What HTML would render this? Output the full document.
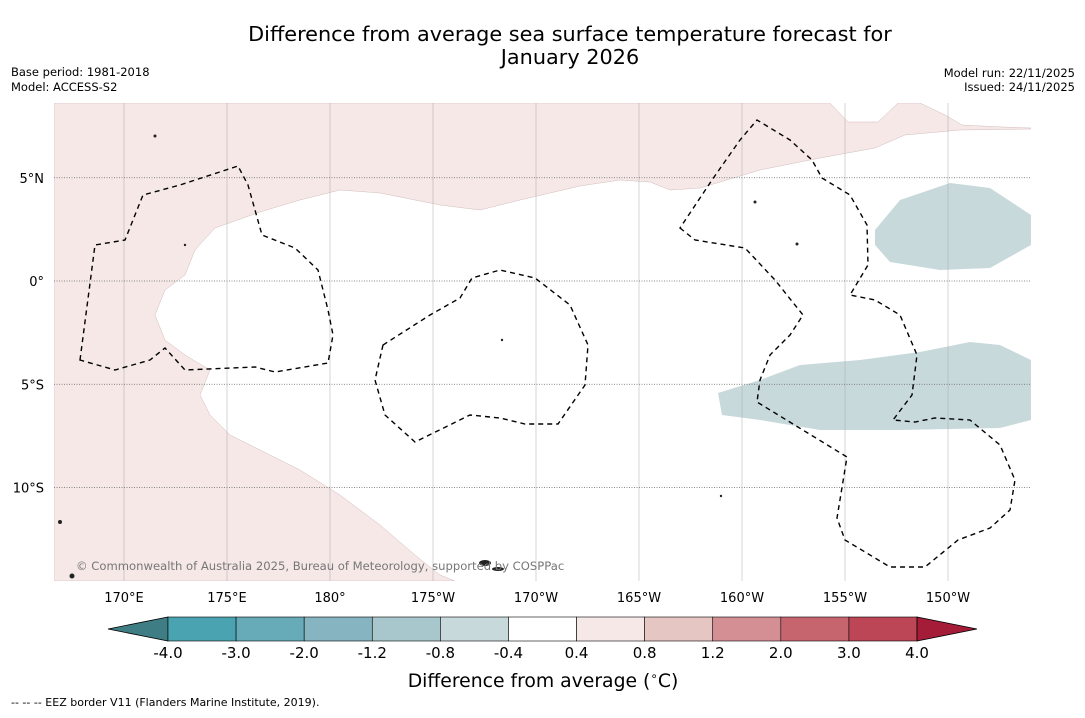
<!DOCTYPE html>
<html><head><meta charset="utf-8">
<style>
body{margin:0;background:#fff;font-family:"Liberation Sans","DejaVu Sans",sans-serif;}
svg text{font-family:"DejaVu Sans","Liberation Sans",sans-serif;}
</style></head>
<body>
<svg width="1085" height="713" viewBox="0 0 1085 713">
<text x="570" y="41" font-size="20.8" text-anchor="middle">Difference from average sea surface temperature forecast for</text>
<text x="570" y="64" font-size="20.8" text-anchor="middle">January 2026</text>
<text x="11" y="76" font-size="11.5">Base period: 1981-2018</text>
<text x="11" y="91" font-size="11.5">Model: ACCESS-S2</text>
<text x="1075" y="77" font-size="11.5" text-anchor="end">Model run: 22/11/2025</text>
<text x="1075" y="91" font-size="11.5" text-anchor="end">Issued: 24/11/2025</text>

<g>
<clipPath id="mc"><rect x="54" y="103" width="977" height="478"/></clipPath>
<g clip-path="url(#mc)">
<rect x="54" y="103" width="977" height="478" fill="#fff"/>
<path fill="#f5e8e7" stroke="#c9aeae" stroke-width="0.4" d="M54,103 L830,103 L848,122 L878,122 L898,103 L920,103 L945,115 L962,125 L1003,127 L1031,128 L1031,129 L960,130 L905,135 L875,148 L820,158 L760,170 L700,188 L670,190 L650,182 L620,180 L580,186 L520,200 L480,210 L440,205 L380,193 L340,190 L300,200 L260,212 L215,228 L195,250 L185,275 L165,290 L155,315 L165,340 L185,355 L210,370 L200,395 L210,415 L230,435 L260,450 L300,470 L340,495 L380,525 L415,555 L440,575 L455,581 L54,581 Z"/>
<path fill="#c8d9dc" d="M875,230 L900,200 L950,183 L990,188 L1031,215 L1031,245 L990,268 L940,270 L890,262 L875,245 Z"/>
<path fill="#c8d9dc" d="M718,393 L760,380 L800,365 L860,360 L920,352 L970,342 L1000,345 L1031,360 L1031,420 L1000,428 L900,430 L820,430 L760,420 L722,415 Z"/>
<g id="grid"></g>
<g fill="none" stroke="#000" stroke-width="1.4" stroke-dasharray="5,4">
<path d="M80,360 L95,245 L125,240 L143,195 L180,185 L238,166 L248,185 L262,235 L295,248 L318,270 L328,310 L333,335 L328,363 L275,372 L255,367 L185,370 L165,348 L150,360 L115,370 Z"/>
<path d="M383,345 L375,380 L385,415 L415,442 L470,415 L500,418 L525,424 L558,424 L585,385 L588,345 L570,305 L535,278 L500,270 L472,278 L460,298 L430,315 Z"/>
<path d="M680,228 L695,240 L745,248 L775,280 L803,315 L790,335 L770,355 L760,380 L757,402 L847,457 L837,518 L845,540 L890,567 L925,567 L958,540 L990,528 L1010,510 L1015,480 L1000,445 L970,420 L935,418 L915,422 L893,420 L912,395 L917,355 L900,315 L875,300 L850,295 L868,265 L867,225 L850,195 L822,178 L812,160 L790,140 L757,120 L740,140 L712,180 Z"/>
</g>
<g fill="#222">
<ellipse cx="485" cy="563" rx="6" ry="3"/><ellipse cx="498" cy="569" rx="6" ry="2"/>
<circle cx="60" cy="522" r="2"/><circle cx="72" cy="576" r="2.5"/><circle cx="755" cy="202" r="1.5"/><circle cx="797" cy="244" r="1.5"/>
<circle cx="502" cy="340" r="1.2"/><circle cx="185" cy="245" r="1.2"/><circle cx="155" cy="136" r="1.5"/><circle cx="721" cy="496" r="1.2"/>
</g>
</g>
<text x="76" y="570" font-size="11.6" fill="#777">© Commonwealth of Australia 2025, Bureau of Meteorology, supported by COSPPac</text>
<g id="ticks" font-size="13"></g>
</g>

<g id="cbar"></g>
<text x="543" y="687" font-size="18.8" text-anchor="middle">Difference from average (<tspan font-size="12" dy="-7">∘</tspan><tspan dy="7">C)</tspan></text>
<text x="11" y="706" font-size="11">--  --  -- EEZ border V11 (Flanders Marine Institute, 2019).</text>
</svg>
<script>
const lonTicks=[170,175,180,185,190,195,200,205,210];
const lonLabels=["170°E","175°E","180°","175°W","170°W","165°W","160°W","155°W","150°W"];
const latTicks=[5,0,-5,-10];
const latLabels=["5°N","0°","5°S","10°S"];
const cbarLabels=["-4.0","-3.0","-2.0","-1.2","-0.8","-0.4","0.4","0.8","1.2","2.0","3.0","4.0"];
const cbarColors=["#4aa3b1","#67aab8","#86b5c1","#a8c7cc","#c8d9dc","#ffffff","#f5e8e7","#e6c6c2","#d48f95","#c7656f","#bc4556"];
const underColor="#3f7d84", overColor="#a51c38";
const NS="http://www.w3.org/2000/svg";
const xLon=l=>124+(l-170)*20.6;
const yLat=l=>281-l*20.65;
function mk(t,a,p){const e=document.createElementNS(NS,t);for(const k in a)e.setAttribute(k,a[k]);p.appendChild(e);return e;}
const grid=document.getElementById('grid'),ticks=document.getElementById('ticks');
lonTicks.forEach((l,i)=>{
 const ln=mk('line',{x1:xLon(l),x2:xLon(l),y1:103,y2:581,stroke:'#aaa','stroke-width':0.5},grid);
 
 
 const t=mk('text',{x:xLon(l),y:602,'text-anchor':'middle'},ticks);t.textContent=lonLabels[i];
 
 
});
latTicks.forEach((l,i)=>{
 const ln=mk('line',{x1:54,x2:1031,y1:yLat(l),y2:yLat(l),stroke:'#666','stroke-width':0.7,'stroke-dasharray':'1,1.5'},grid);
 
 
 const t=mk('text',{x:44,y:yLat(l)+5,'text-anchor':'end'},ticks);t.textContent=latLabels[i];
 
 
});
const cb=document.getElementById('cbar');
const cx0=168,cx1=917,cy=617,ch=24,sw=(cx1-cx0)/cbarColors.length;
const u=mk('polygon',{points:`${cx0},${cy} ${cx0},${cy+ch} 108,${cy+ch/2}`,fill:underColor,stroke:'#000','stroke-width':0.8},cb);


cbarColors.forEach((c,i)=>{
 const r=mk('rect',{x:cx0+i*sw,y:cy,width:sw,height:ch,fill:c,stroke:'#000','stroke-width':0.6},cb);
 
 
});
const o=mk('polygon',{points:`${cx1},${cy} ${cx1},${cy+ch} 977,${cy+ch/2}`,fill:overColor,stroke:'#000','stroke-width':0.8},cb);


cbarLabels.forEach((s,i)=>{
 const t=mk('text',{x:cx0+i*sw,y:658,'text-anchor':'middle','font-size':15},cb);t.textContent=s;
 
 
});
</script>
</body></html>
